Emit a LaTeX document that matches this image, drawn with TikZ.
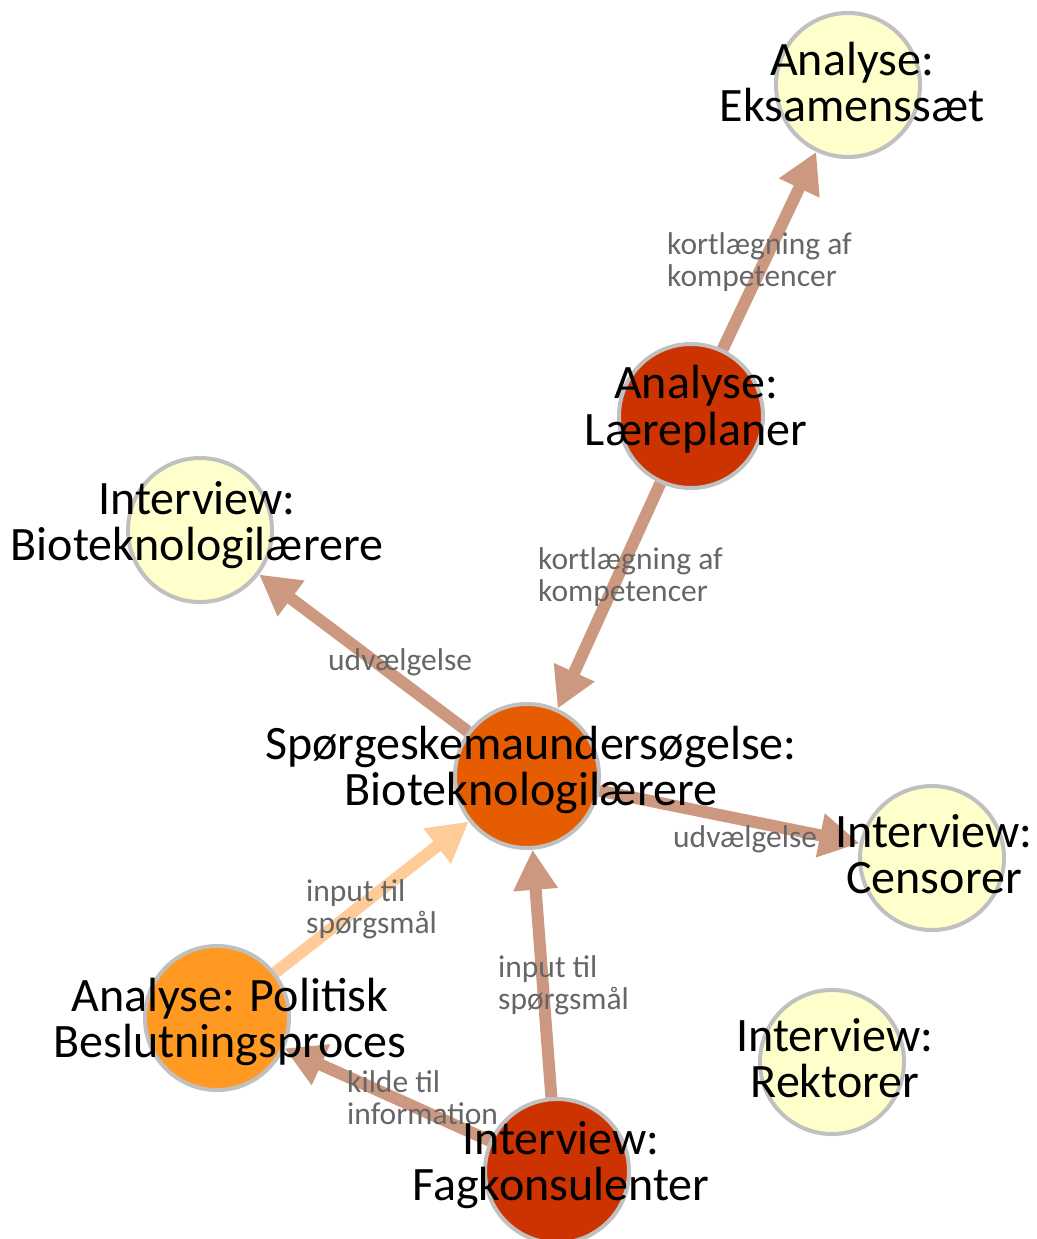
\documentclass[tikz,border=0pt]{standalone}
\usepackage{fontspec}
\setmainfont{Carlito}
\usetikzlibrary{arrows.meta}
\definecolor{yel}{RGB}{255,255,204}
\definecolor{dred}{RGB}{204,51,0}
\definecolor{oran}{RGB}{230,92,0}
\definecolor{lor}{RGB}{255,153,34}
\definecolor{bord}{RGB}{192,192,192}
\definecolor{edgec}{RGB}{204,153,128}
\definecolor{edgel}{RGB}{255,204,153}
\definecolor{labc}{RGB}{102,102,102}
\begin{document}
\begin{tikzpicture}[x=1pt,y=-1pt,
  circ/.style={circle,draw=bord,line width=4pt,minimum size=144pt,inner sep=0pt},
  ntext/.style={align=center,inner sep=0pt,font=\fontsize{48}{46.5}\selectfont},
  elab/.style={align=left,inner sep=0pt,anchor=base west,text=labc,font=\fontsize{31.5}{31.5}\selectfont},
  conn/.style={draw=edgec,line width=12pt,-{Triangle[length=40pt,width=42pt]}},
  connl/.style={conn,draw=edgel},
]
\fill[white] (0,0) rectangle (1036,1239);
\useasboundingbox (0,0) rectangle (1036,1239);

% circles
\node[circ,fill=yel]  (eks) at (848,85) {};
\node[circ,fill=dred] (lae) at (691,416) {};
\node[circ,fill=yel]  (bio) at (200,530) {};
\node[circ,fill=oran] (spo) at (527,776) {};
\node[circ,fill=yel]  (cen) at (932,858) {};
\node[circ,fill=lor]  (pol) at (217,1018) {};
\node[circ,fill=dred] (fag) at (557,1171) {};
\node[circ,fill=yel]  (rek) at (832,1062) {};

% connectors
\draw[conn]  (lae) -- (eks);
\draw[conn]  (lae) -- (spo);
\draw[conn]  (spo) -- (bio);
\draw[conn]  (spo) -- (cen);
\draw[connl] (pol) -- (spo);
\draw[conn]  (fag) -- (spo);
\draw[conn]  (fag) -- (pol);

% node texts
\node[ntext] (eks-t) at (852,82)  {Analyse:\\Eksamenssæt};
\node[ntext] (lae-t) at (696,409) {Analyse:\\Læreplaner};
\node[ntext] (bio-t) at (197,525) {Interview:\\Bioteknologilærere};
\node[ntext] (spo-t) at (531,770) {Spørgeskemaundersøgelse:\\Bioteknologilærere};
\node[ntext] (cen-t) at (934,854) {Interview:\\Censorer};
\node[ntext] (pol-t) at (230,1022) {Analyse: Politisk\\Beslutningsproces};
\node[ntext] (fag-t) at (561,1165) {Interview:\\Fagkonsulenter};
\node[ntext] (rek-t) at (835,1058) {Interview:\\Rektorer};

% edge labels
\node[elab] (l1) at (667,286)  {kortlægning af\\kompetencer};
\node[elab] (l2) at (538,601)  {kortlægning af\\kompetencer};
\node[elab] (l3) at (328,670)  {udvælgelse};
\node[elab] (l4) at (673,847)  {udvælgelse};
\node[elab] (l5) at (306,933)  {input til\\spørgsmål};
\node[elab] (l6) at (498,1009) {input til\\spørgsmål};
\node[elab] (l7) at (347,1124) {kilde til\\information};
\end{tikzpicture}
\end{document}
